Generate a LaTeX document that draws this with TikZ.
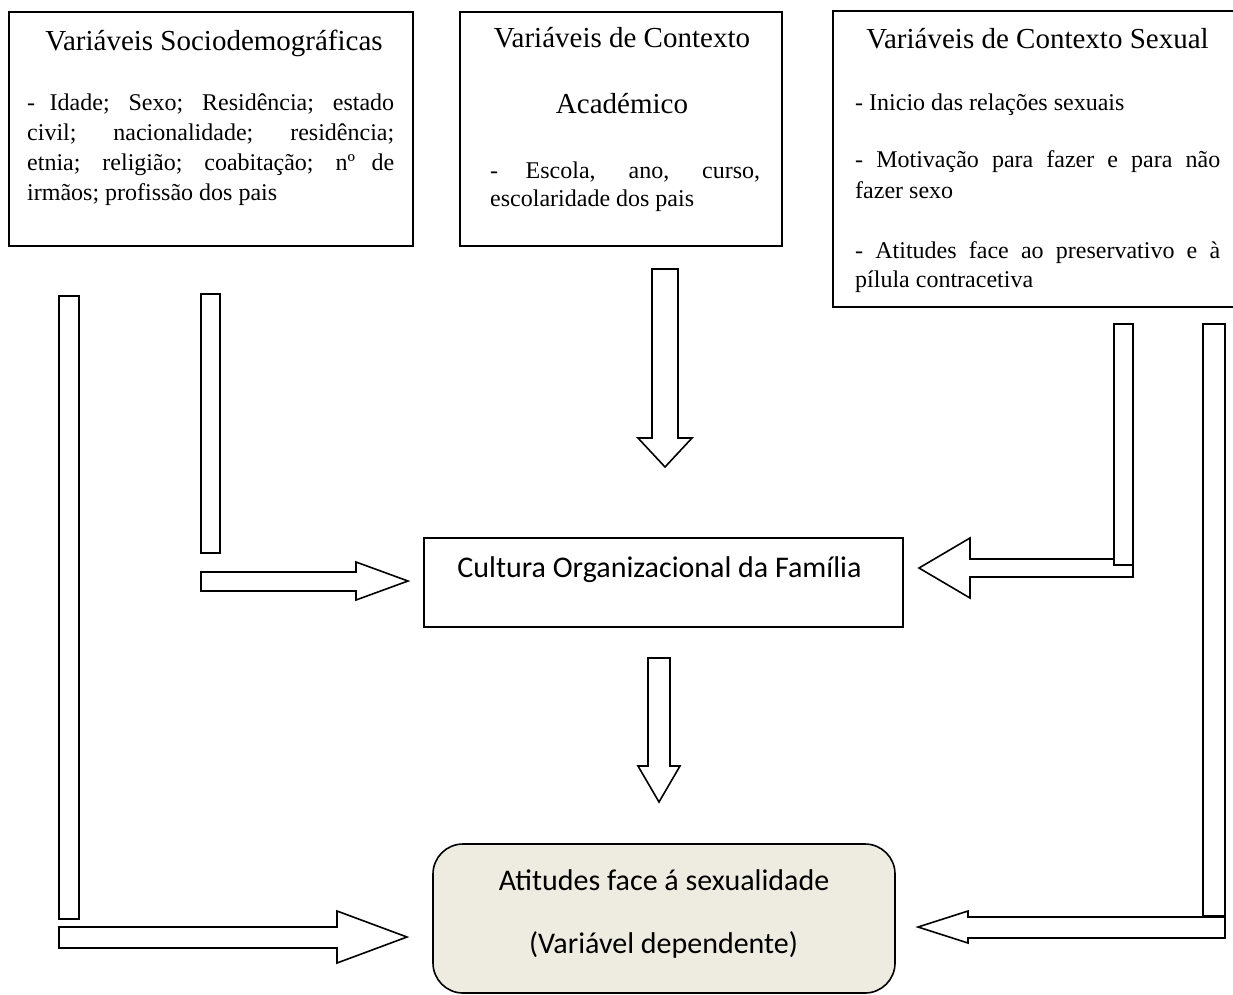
\documentclass[tikz,border=0pt]{standalone}
\usepackage{fontspec}
\setmainfont{Liberation Serif}
\newfontfamily\calib{Carlito}
\newcommand\bodyf{\fontsize{24}{30}\selectfont}
\newcommand\titlef{\fontsize{29}{35}\selectfont}
\newcommand\sansf{\calib\fontsize{30}{36}\selectfont}
\definecolor{beige}{RGB}{238,236,225}
\begin{document}
\begin{tikzpicture}[x=1pt,y=-1pt,
  frame/.style={draw,line width=1.6pt},
  blockarrow/.style={draw,line width=1.6pt,fill=white,line join=miter},
  txt/.style={inner sep=0pt,font=\bodyf},
  ttl/.style={inner sep=0pt,anchor=base,font=\titlef},
  stxt/.style={inner sep=0pt,anchor=base,font=\sansf}]
\useasboundingbox (0,0) rectangle (1233,994);

% boxes
\draw[frame] (9,12) rectangle (413,246);
\draw[frame] (460,12) rectangle (782,246);
\draw[frame] (833,11) rectangle (1240,307);
\draw[frame] (424,538) rectangle (903,627);
\draw[frame,fill=beige,rounded corners=30pt] (433,844) rectangle (895,993);

% box 1 text
\node[ttl] (t1) at (214,50) {Variáveis Sociodemográficas};
\node[txt,anchor=base west] (t1a) at (27,110) {\makebox[367pt][s]{- Idade; Sexo; Residência; estado}};
\node[txt,anchor=base west] (t1b) at (27,140) {\makebox[367pt][s]{civil; nacionalidade; residência;}};
\node[txt,anchor=base west] (t1c) at (27,170) {\makebox[367pt][s]{etnia; religião; coabitação; nº de}};
\node[txt,anchor=base west] (t1d) at (27,200) {irmãos; profissão dos pais};

% box 2 text
\node[ttl] (t2) at (622,47) {Variáveis de Contexto};
\node[ttl] (t2b) at (622,113) {Académico};
\node[txt,anchor=base west] (t2c) at (490,178) {\makebox[270pt][s]{- Escola, ano, curso,}};
\node[txt,anchor=base west] (t2d) at (490,206) {escolaridade dos pais};

% box 3 text
\node[ttl] (t3) at (1037.5,48) {Variáveis de Contexto Sexual};
\node[txt,anchor=base west] (t3a) at (855,110) {- Inicio das relações sexuais};
\node[txt,anchor=base west] (t3b) at (855,167) {\makebox[365pt][s]{- Motivação para fazer e para não}};
\node[txt,anchor=base west] (t3c) at (855,198) {fazer sexo};
\node[txt,anchor=base west] (t3d) at (855,258) {\makebox[365pt][s]{- Atitudes face ao preservativo e à}};
\node[txt,anchor=base west] (t3e) at (855,287) {pílula contracetiva};

% center and bottom text
\node[stxt] (cult) at (659.5,577) {Cultura Organizacional da Família};
\node[stxt] (att1) at (664,890) {Atitudes face á sexualidade};
\node[stxt] (att2) at (663.5,953) {(Variável dependente)};

% left arrows
\draw[blockarrow] (59,296) rectangle (79,919);
\draw[blockarrow] (59,927) -- (337,927) -- (337,911) -- (407,937) -- (337,963) -- (337,948) -- (59,948) -- cycle;
\draw[blockarrow] (201,294) rectangle (220,553);
\draw[blockarrow] (201,572) -- (356,572) -- (356,562) -- (408,581) -- (356,600) -- (356,591) -- (201,591) -- cycle;

% centre arrows
\draw[blockarrow] (652,269) -- (678,269) -- (678,438) -- (692,438) -- (665,467) -- (638,438) -- (652,438) -- cycle;
\draw[blockarrow] (648,658) -- (670,658) -- (670,766) -- (680,766) -- (659,802) -- (638,766) -- (648,766) -- cycle;

% right arrows
\draw[blockarrow] (1133,559) -- (970,559) -- (970,538) -- (919,568) -- (970,598) -- (970,577) -- (1133,577) -- cycle;
\draw[blockarrow] (1114,324) rectangle (1133,565);
\draw[blockarrow] (1225,917) -- (968,917) -- (968,911) -- (918,927) -- (968,943) -- (968,938) -- (1225,938) -- cycle;
\draw[blockarrow] (1203,324) rectangle (1225,916);
\end{tikzpicture}
\end{document}
